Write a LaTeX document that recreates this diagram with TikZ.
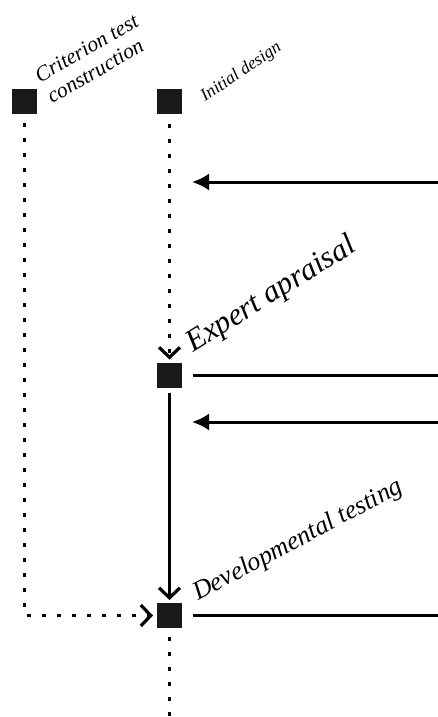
\documentclass[tikz,border=0pt]{standalone}
\usepackage{fontspec}
\setmainfont{Liberation Serif}
\usetikzlibrary{arrows.meta}
\begin{document}
\begin{tikzpicture}[x=1pt,y=1pt,
  stage/.style={fill=black!90,minimum size=25pt,inner sep=0pt,outer sep=0pt},
  solidline/.style={line width=3pt},
  dotline/.style={line width=3.5pt,dash pattern=on 3.5pt off 11.5pt},
  chevron/.style={-{Straight Barb[length=10pt,width=21pt,line width=3.2pt]}},
  inarrow/.style={line width=3pt,-{Latex[length=17pt,width=17pt]}},
  lbl/.style={inner sep=0pt,anchor=base west}]
\useasboundingbox (0,0) rectangle (438,-717);

% stages
\node[stage] (ct) at (24.5,-101.5) {};
\node[stage] (id) at (169.5,-101.5) {};
\node[stage] (ea) at (169.5,-375) {};
\node[stage] (dt) at (169.5,-615.5) {};

% free ends
\coordinate (bottom) at (169.5,-717);
\coordinate (r1) at (438,-182);
\coordinate (t1) at (192,-182);
\coordinate (r2) at (438,-375);
\coordinate (r3) at (438,-422);
\coordinate (t3) at (192,-422);
\coordinate (r4) at (438,-615.5);

% labels (the two-line label is anchored on its last baseline)
\node[lbl,rotate=30,align=left,font=\itshape\fontsize{21.5}{24}\selectfont]
  (ctl) at (52,-104) {Criterion test\\construction};
\node[lbl,rotate=34,font=\itshape\fontsize{17.5}{20}\selectfont]
  (idl) at (205,-102) {Initial design};
\node[lbl,rotate=32,font=\itshape\fontsize{31}{35}\selectfont]
  (eal) at (193,-353) {Expert apraisal};
\node[lbl,rotate=28,font=\itshape\fontsize{26}{30}\selectfont]
  (dtl) at (198,-601) {Developmental testing};

% connectors
\draw[dotline,chevron,shorten <=9pt,shorten >=4pt] (ct.south) |- (dt.west);
\draw[dotline,chevron,shorten <=10pt,shorten >=3pt] (id.south) -- (ea.north);
\draw[solidline,chevron,shorten <=5pt,shorten >=3pt] (ea.south) -- (dt.north);
\draw[dotline,shorten <=9pt] (dt.south) -- (bottom);

\draw[inarrow] (r1) -- (t1);
\draw[solidline,shorten <=11pt] (ea.east) -- (r2);
\draw[inarrow] (r3) -- (t3);
\draw[solidline,shorten <=11pt] (dt.east) -- (r4);
\end{tikzpicture}
\end{document}
